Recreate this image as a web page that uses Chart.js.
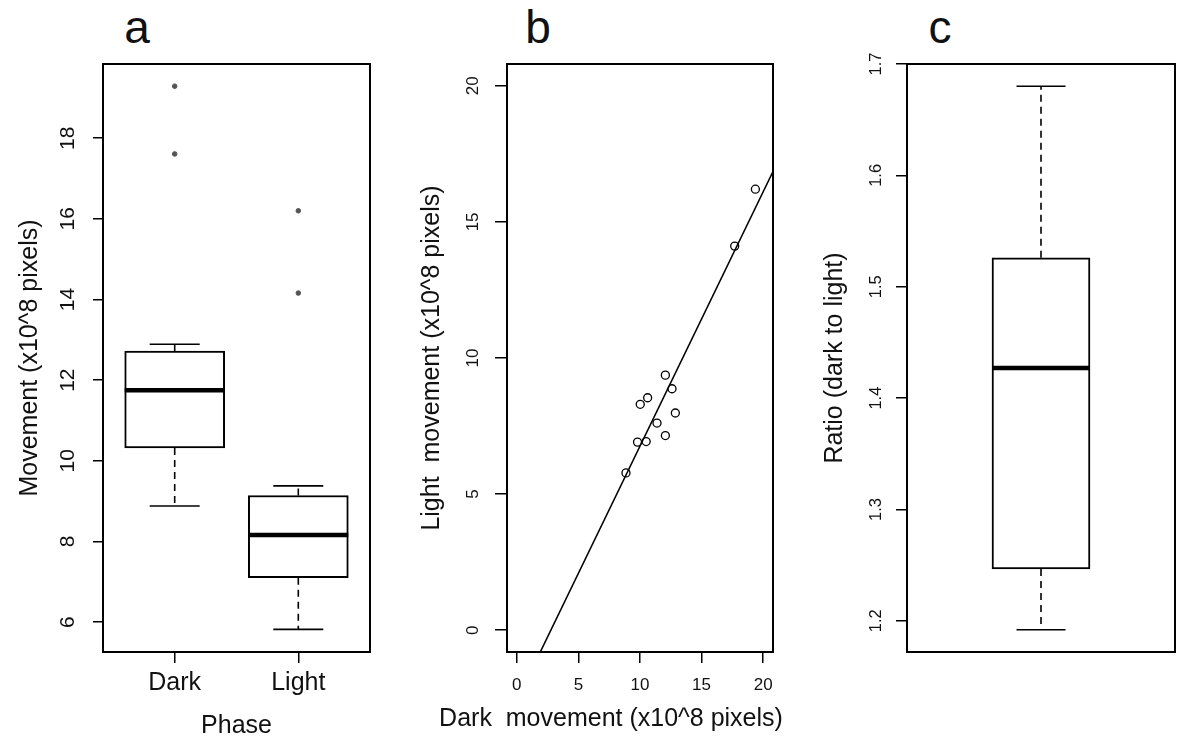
<!DOCTYPE html>
<html lang="en">
<head>
    <meta charset="UTF-8">
    <title>Dark / light movement</title>
    <script src="https://cdn.jsdelivr.net/npm/chart.js"></script>
    <style>
        body { margin: 0; background: #fff; }
        #wrap { position: relative; width: 1178px; height: 740px; overflow: hidden; font-family: "Liberation Sans", Arial, sans-serif; }
        #wrap canvas { position: absolute; top: 0; }
        .letter { position: absolute; top: 4px; width: 60px; text-align: center; font-size: 46px; line-height: 1; color: #111; }
    </style>
</head>
<body>
<div id="wrap">
    <div class="letter" style="left:107px">a</div>
    <div class="letter" style="left:508px">b</div>
    <div class="letter" style="left:910px">c</div>
    <canvas id="chartA" width="390" height="740" style="left:0"></canvas>
    <canvas id="chartB" width="442" height="740" style="left:390px"></canvas>
    <canvas id="chartC" width="388" height="740" style="left:790px"></canvas>
</div>

<script>
    // panel a: box stats
    const phases = ["Dark", "Light"];
    const phaseLow = [8.88, 5.82];
    const phaseQ1 = [10.32, 7.10];
    const phaseMedian = [11.75, 8.16];
    const phaseQ3 = [12.72, 9.14];
    const phaseHigh = [12.89, 9.38];
    const outlierGroup = [1, 1, 2, 2];
    const outlierValues = [19.29, 17.61, 16.20, 14.16];
    const movementTicks = [6, 8, 10, 12, 14, 16, 18];

    // panel b: one point per animal
    const darkMovement = [12.06, 12.60, 10.02, 10.62, 12.87, 11.38, 12.06, 9.80, 10.50, 8.86, 17.69, 19.37];
    const lightMovement = [9.37, 8.87, 8.30, 8.54, 7.98, 7.61, 7.15, 6.91, 6.93, 5.78, 14.11, 16.20];
    const fitX = [1.9, 20.8];
    const fitY = [-0.8, 16.85];
    const scatterTicks = [0, 5, 10, 15, 20];

    // panel c
    const ratioLow = [1.192];
    const ratioQ1 = [1.2465];
    const ratioMedian = [1.427];
    const ratioQ3 = [1.526];
    const ratioHigh = [1.680];
    const ratioTicks = [1.2, 1.3, 1.4, 1.5, 1.6, 1.7];

    const FONT = '"Liberation Sans", Arial, sans-serif';
    const INK = "#111";

    // frame around the plot region, like R's box()
    const framePlugin = {
        id: "frame",
        afterDraw(chart) {
            const a = chart.chartArea, ctx = chart.ctx;
            ctx.save();
            ctx.strokeStyle = "#000";
            ctx.lineWidth = 2;
            ctx.strokeRect(a.left, a.top, a.right - a.left, a.bottom - a.top);
            ctx.restore();
        }
    };

    // whiskers + median drawn on top of the floating bars
    const whiskerPlugin = {
        id: "whiskers",
        afterDatasetsDraw(chart, args, opts) {
            if (!opts.median) return;
            const ctx = chart.ctx, y = chart.scales.y;
            const bars = chart.getDatasetMeta(0).data;
            ctx.save();
            ctx.strokeStyle = "#000";
            bars.forEach((bar, i) => {
                const x = bar.x, w = bar.width;
                const line = (x1, y1, x2, y2) => { ctx.beginPath(); ctx.moveTo(x1, y1); ctx.lineTo(x2, y2); ctx.stroke(); };
                ctx.lineWidth = 1.6;
                ctx.setLineDash([7, 5]);
                line(x, y.getPixelForValue(opts.q3[i]), x, y.getPixelForValue(opts.high[i]));
                line(x, y.getPixelForValue(opts.q1[i]), x, y.getPixelForValue(opts.low[i]));
                ctx.setLineDash([]);
                line(x - w / 4, y.getPixelForValue(opts.high[i]), x + w / 4, y.getPixelForValue(opts.high[i]));
                line(x - w / 4, y.getPixelForValue(opts.low[i]), x + w / 4, y.getPixelForValue(opts.low[i]));
                ctx.lineWidth = 4.5;
                line(x - w / 2, y.getPixelForValue(opts.median[i]), x + w / 2, y.getPixelForValue(opts.median[i]));
            });
            ctx.restore();
        }
    };

    function tickSetter(values) {
        return (scale) => { scale.ticks = values.map(v => ({ value: v })); };
    }

    function yAxis(min, max, ticks, width, tickSize, tickLen, pad, title, titlePad, fmt) {
        return {
            type: "linear", min: min, max: max,
            afterBuildTicks: tickSetter(ticks),
            afterFit: (s) => { s.width = width; },
            border: { display: false },
            grid: { drawOnChartArea: false, drawTicks: true, tickLength: tickLen, color: "#000", lineWidth: 1.5 },
            ticks: {
                autoSkip: false, minRotation: 90, maxRotation: 90, crossAlign: "center", padding: pad,
                color: INK, font: { family: FONT, size: tickSize },
                callback: fmt || ((v) => String(v))
            },
            title: { display: true, text: title, color: INK, padding: { top: titlePad, bottom: 0 }, font: { family: FONT, size: 25, lineHeight: 1 } }
        };
    }

    // ---------- a ----------
    new Chart(document.getElementById("chartA"), {
        type: "bar",
        data: {
            datasets: [
                {
                    data: phases.map((p, i) => ({ x: i + 1, y: [phaseQ1[i], phaseQ3[i]] })),
                    backgroundColor: "#fff", borderColor: "#000", borderWidth: 2, borderSkipped: false, barThickness: 100
                },
                {
                    type: "scatter",
                    data: outlierValues.map((v, i) => ({ x: outlierGroup[i], y: v })),
                    pointRadius: 2.3, backgroundColor: "#555", borderColor: "#555", borderWidth: 1
                }
            ]
        },
        options: {
            responsive: false, animation: false,
            layout: { padding: { left: 0, right: 20, top: 64, bottom: 0 } },
            plugins: {
                legend: { display: false }, tooltip: { enabled: false },
                whiskers: { low: phaseLow, q1: phaseQ1, median: phaseMedian, q3: phaseQ3, high: phaseHigh }
            },
            scales: {
                x: {
                    type: "linear", min: 0.42, max: 2.58, offset: false,
                    afterBuildTicks: tickSetter([1, 2]),
                    afterFit: (s) => { s.height = 88; },
                    border: { display: false },
                    grid: { offset: false, drawOnChartArea: false, drawTicks: true, tickLength: 11, color: "#000", lineWidth: 1.5 },
                    ticks: { autoSkip: false, maxRotation: 0, padding: 5, color: INK, font: { family: FONT, size: 25 }, callback: (v) => phases[v - 1] },
                    title: { display: true, text: "Phase", color: INK, padding: { top: 0, bottom: 1.5 }, font: { family: FONT, size: 25, lineHeight: 1 } }
                },
                y: yAxis(5.26, 19.84, movementTicks, 103, 21, 10, 13, "Movement (x10^8 pixels)", 17.5)
            }
        },
        plugins: [whiskerPlugin, framePlugin]
    });

    // ---------- b ----------
    // the x title is wider than the plot, so it goes in the chart title box (full canvas width)
    new Chart(document.getElementById("chartB"), {
        type: "scatter",
        data: {
            datasets: [
                {
                    data: darkMovement.map((d, i) => ({ x: d, y: lightMovement[i] })),
                    pointRadius: 4, pointBorderWidth: 1.3, backgroundColor: "rgba(0,0,0,0)", borderColor: "#000"
                },
                {
                    type: "line",
                    data: fitX.map((x, i) => ({ x: x, y: fitY[i] })),
                    borderColor: "#000", borderWidth: 1.6, pointRadius: 0, fill: false
                }
            ]
        },
        options: {
            responsive: false, animation: false,
            layout: { padding: { left: 0, right: 0, top: 64, bottom: 0 } },
            plugins: {
                legend: { display: false }, tooltip: { enabled: false },
                title: {
                    display: true, position: "bottom", text: "Dark  movement (x10^8 pixels)", color: INK,
                    padding: { top: 0, bottom: 8.5 }, font: { family: FONT, size: 25, weight: "normal", lineHeight: 1 }
                }
            },
            scales: {
                x: {
                    type: "linear", min: -0.8, max: 20.8,
                    afterBuildTicks: tickSetter(scatterTicks),
                    afterFit: (s) => { s.height = 54.5; },
                    border: { display: false },
                    grid: { drawOnChartArea: false, drawTicks: true, tickLength: 11, color: "#000", lineWidth: 1.5 },
                    ticks: { autoSkip: false, maxRotation: 0, padding: 12, color: INK, font: { family: FONT, size: 17 } }
                },
                y: yAxis(-0.8, 20.8, scatterTicks, 117, 17, 12, 12, "Light  movement (x10^8 pixels)", 29.5),
                // empty right-hand margin so the plot ends where it should
                spacer: {
                    type: "linear", position: "right", display: true,
                    afterFit: (s) => { s.width = 59; },
                    grid: { display: false }, border: { display: false }, ticks: { display: false }
                }
            }
        },
        plugins: [framePlugin]
    });

    // ---------- c ----------
    new Chart(document.getElementById("chartC"), {
        type: "bar",
        data: {
            datasets: [{
                data: ratioMedian.map((m, i) => ({ x: i + 1, y: [ratioQ1[i], ratioQ3[i]] })),
                backgroundColor: "#fff", borderColor: "#000", borderWidth: 2, borderSkipped: false, barThickness: 98
            }]
        },
        options: {
            responsive: false, animation: false,
            layout: { padding: { left: 0, right: 3, top: 64, bottom: 88 } },
            plugins: {
                legend: { display: false }, tooltip: { enabled: false },
                whiskers: { low: ratioLow, q1: ratioQ1, median: ratioMedian, q3: ratioQ3, high: ratioHigh }
            },
            scales: {
                x: { type: "linear", min: 0.46, max: 1.54, offset: false, display: false, grid: { offset: false } },
                y: yAxis(1.172, 1.7, ratioTicks, 117, 16.5, 11, 8.5, "Ratio (dark to light)", 32.5, (v) => v.toFixed(1))
            }
        },
        plugins: [whiskerPlugin, framePlugin]
    });
</script>
</body>
</html>
